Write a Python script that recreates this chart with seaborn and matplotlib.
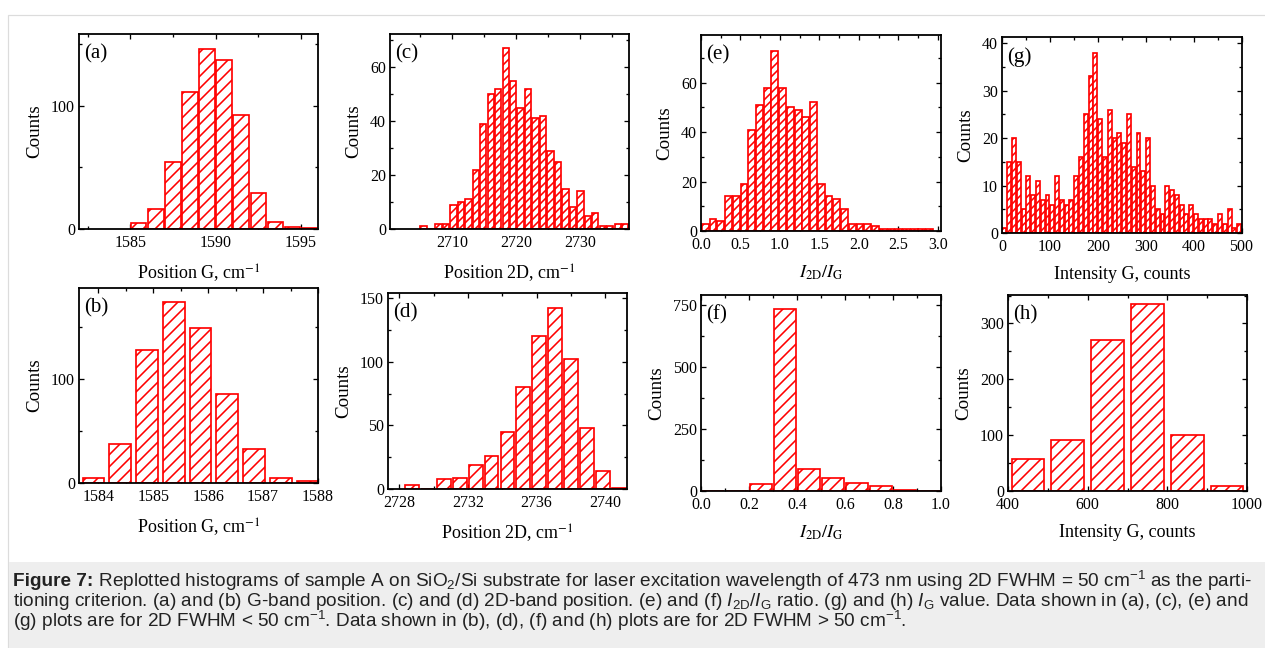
import matplotlib
matplotlib.use('Agg')
import matplotlib.pyplot as plt
from matplotlib.patches import Rectangle
from matplotlib.ticker import MultipleLocator
import numpy as np
import seaborn as sns

# ---- data (bin start, bin width, counts) ----
# (a) G position, 2D FWHM < 50
a_start, a_width = 1585.0, 1.0
a_counts = [5, 16, 54, 111, 146, 137, 92, 29, 6, 2, 1]
# (b) G position, 2D FWHM > 50
b_start, b_width = 1583.67, 0.487
b_counts = [5, 37, 128, 174, 149, 85, 33, 5, 2]
# (c) 2D position, FWHM < 50
c_start, c_width = 2704.96, 1.165
c_counts = [1, 0, 2, 2, 9, 10, 11, 22, 39, 50, 52, 67, 55, 45, 52, 41, 42,
            29, 25, 15, 8, 14, 5, 6, 1, 1, 2, 2]
# (d) 2D position, FWHM > 50
d_start, d_width = 2728.29, 0.925
d_counts = [3, 0, 8, 9, 19, 26, 45, 80, 120, 142, 102, 48, 14, 1]
# (e) I2D/IG, FWHM < 50
e_start, e_width = 0.005, 0.098
e_counts = [3, 5, 4, 14, 14, 19, 41, 51, 58, 73, 58, 50, 49, 46, 52, 19, 14,
            13, 9, 3, 3, 3, 2, 1, 1, 1, 1, 1, 1, 1]
# (f) I2D/IG, FWHM > 50
f_start, f_width = 0.0, 0.1
f_counts = [0, 0, 27, 735, 88, 51, 34, 20, 5, 1]
# (g) Intensity G, FWHM < 50
g_start, g_width = 0.0, 10.0
g_counts = [1, 15, 20, 15, 5, 12, 8, 11, 7, 8, 6, 12, 7, 6, 7, 12, 16, 25, 33,
            38, 24, 16, 26, 20, 21, 19, 25, 14, 21, 13, 20, 10, 5, 4, 10, 9, 8,
            6, 4, 6, 4, 3, 3, 3, 2, 4, 2, 5, 1, 2]
# (h) Intensity G, FWHM > 50
h_start, h_width = 400.0, 100.0
h_counts = [57, 91, 271, 334, 100, 9]

xlabel_posG = 'Position G, cm$^{-1}$'
xlabel_pos2D = 'Position 2D, cm$^{-1}$'
xlabel_ratio = r'$I_{\mathrm{2D}}/I_{\mathrm{G}}$'
xlabel_int = 'Intensity G, counts'

W, H = 1265, 648
DPI = 72

sns.set_theme(style='ticks')
plt.rcParams['font.family'] = ['Liberation Serif', 'DejaVu Serif']
plt.rcParams['mathtext.fontset'] = 'stix'
plt.rcParams['mathtext.rm'] = 'Liberation Sans'
plt.rcParams['mathtext.it'] = 'Liberation Sans:italic'
plt.rcParams['mathtext.bf'] = 'Liberation Sans:bold'
plt.rcParams['hatch.linewidth'] = 1.6

fig = plt.figure(figsize=(W / DPI, H / DPI), dpi=DPI, facecolor='white')

# page frame and caption band
fig.patches.append(Rectangle((8 / W, 0), (W + 10) / W, (H - 15) / H,
                             transform=fig.transFigure, facecolor='white',
                             edgecolor='#dcdcdc', lw=1.2, zorder=-10))
fig.patches.append(Rectangle((8.6 / W, 0), (W + 10) / W, (H - 562) / H,
                             transform=fig.transFigure, facecolor='#eeeeee',
                             edgecolor='none', zorder=-9))


def add_ax(l, t, r, b):
    return fig.add_axes([l / W, 1 - b / H, (r - l) / W, (b - t) / H])


def panel(ax, start, width, counts, shrink, xlim, ylim, xt, yt, xlabel, tag,
          hatch='//'):
    edges = start + width * np.arange(len(counts) + 1)
    centers = edges[:-1] + width / 2
    sns.histplot(x=centers, weights=counts, bins=list(edges), shrink=shrink,
                 ax=ax, facecolor='white', edgecolor='red', linewidth=1.7,
                 hatch=hatch, alpha=1)
    ax.set_xlim(*xlim)
    ax.set_ylim(*ylim)
    ax.xaxis.set_major_locator(MultipleLocator(xt[0]))
    ax.xaxis.set_minor_locator(MultipleLocator(xt[1]))
    ax.yaxis.set_major_locator(MultipleLocator(yt[0]))
    ax.yaxis.set_minor_locator(MultipleLocator(yt[1]))
    ax.tick_params(which='both', direction='in', top=True, right=True,
                   width=1.3, colors='black', labelsize=16)
    ax.tick_params(axis='x', pad=6)
    ax.tick_params(axis='y', pad=4)
    ax.tick_params(which='major', length=5)
    ax.tick_params(which='minor', length=3)
    for s in ax.spines.values():
        s.set_linewidth(1.8)
        s.set_color('black')
    ax.set_xlabel(xlabel, fontsize=18, labelpad=11, color='black')
    ax.set_ylabel('Counts', fontsize=19, labelpad=8, color='black')
    ax.text(0.02, 0.95, tag, transform=ax.transAxes, ha='left', va='top',
            fontsize=21, color='black')
    ax.set_facecolor('white')


panel(add_ax(79, 34, 318, 229), a_start, a_width, a_counts, 0.9,
      (1582, 1596), (0, 158), (5, 2.5), (100, 50), xlabel_posG, '(a)')
panel(add_ax(79, 288, 318, 483), b_start, b_width, b_counts, 0.82,
      (1583.65, 1588.0), (0, 187), (1, 0.5), (100, 50), xlabel_posG, '(b)')
panel(add_ax(390, 34, 629, 229), c_start, c_width, c_counts, 0.85,
      (2700.3, 2737.6), (0, 72.3), (10, 5), (20, 10), xlabel_pos2D, '(c)',
      hatch='///')
panel(add_ax(388, 293, 627, 489), d_start, d_width, d_counts, 0.87,
      (2727.35, 2741.26), (0, 154), (4, 2), (50, 25), xlabel_pos2D, '(d)')
panel(add_ax(701, 35, 941, 231), e_start, e_width, e_counts, 0.88,
      (0, 3.04), (0, 79.3), (0.5, 0.25), (20, 10), xlabel_ratio, '(e)',
      hatch='///')
panel(add_ax(701, 295, 941, 491), f_start, f_width, f_counts, 0.88,
      (0, 1.0), (0, 792), (0.2, 0.1), (250, 125), xlabel_ratio, '(f)')
panel(add_ax(1002, 37, 1242, 233), g_start, g_width, g_counts, 0.82,
      (0, 501), (0, 41.3), (100, 50), (10, 5), xlabel_int, '(g)',
      hatch='///')
panel(add_ax(1008, 295, 1247, 491), h_start, h_width, h_counts, 0.82,
      (400, 1000), (0, 351), (200, 100), (100, 50), xlabel_int, '(h)')

# ---- caption ----
cap_lines = [
    [('Figure 7:', 'bold'),
     (' Replotted histograms of sample A on SiO$_2$/Si substrate for laser '
      'excitation wavelength of 473 nm using 2D FWHM = 50 cm$^{-1}$ as the parti-',
      'normal')],
    [('tioning criterion. (a) and (b) G-band position. (c) and (d) 2D-band '
      'position. (e) and (f) $I_{\\mathrm{2D}}/I_{\\mathrm{G}}$ ratio. (g) and (h) '
      '$I_{\\mathrm{G}}$ value. Data shown in (a), (c), (e) and', 'normal')],
    [('(g) plots are for 2D FWHM < 50 cm$^{-1}$. Data shown in (b), (d), (f) and '
      '(h) plots are for 2D FWHM > 50 cm$^{-1}$.', 'normal')],
]
cap_y = [581, 601, 621]
renderer = fig.canvas.get_renderer()


def caption_line(y, parts, size):
    x = 13
    made = []
    for txt, weight in parts:
        t = fig.text(x / W, 1 - y / H, txt, fontsize=size, fontweight=weight,
                     family='Liberation Sans', math_fontfamily='custom',
                     va='center', ha='left', color='#222222')
        made.append(t)
        x += t.get_window_extent(renderer).width
    return x, made


end, tmp = caption_line(cap_y[0], cap_lines[0], 16)
for t in tmp:
    t.remove()
cap_size = 16 * (1250 - 13) / (end - 13)
for y, parts in zip(cap_y, cap_lines):
    caption_line(y, parts, cap_size)

fig.savefig('out.png', dpi=DPI)
